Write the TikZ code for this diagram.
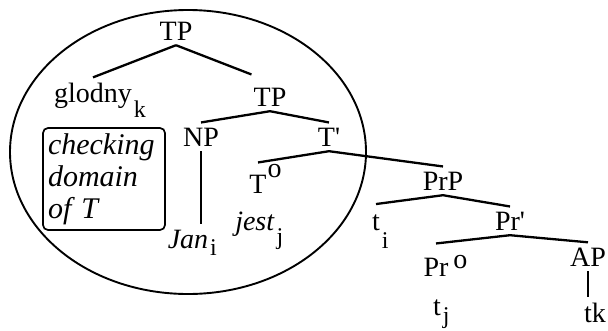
\documentclass[tikz,border=0pt]{standalone}
\usepackage{fontspec}
\setmainfont{Liberation Serif}
% lowered index and raised bar-level mark, kept out of the node width
\newcommand{\lo}[2][8pt]{\rlap{\kern2pt\raisebox{-#1}{\fontsize{24}{24}\selectfont #2}}}
\newcommand{\hi}[2][16pt]{\rlap{\smash{\kern1pt\raisebox{#1}{#2}}}}

\begin{document}
\begin{tikzpicture}[x=1pt,y=-1pt,
    lbl/.style={anchor=base, inner xsep=2pt, inner ysep=5pt, font=\fontsize{28}{30}\selectfont},
    branch/.style={line width=2.3pt}]
\useasboundingbox (0,0) rectangle (608,330);

% checking domain
\draw[line width=1.9pt] (188,152) ellipse [x radius=178, y radius=142];
\node[draw, line width=1.7pt, rounded corners=5pt, align=left, text width=112pt,
      inner xsep=5pt, minimum height=102pt,
      font=\fontsize{30}{32}\selectfont\itshape] (chk) at (104,179) {checking\\domain\\of T};

% labels
\node[lbl] (TPa) at (176,40) {TP};
\node[lbl] (glodny) at (93,102) {glodny\lo[15pt]{k}};
\node[lbl] (TPb) at (270,106) {TP};
\node[lbl] (NP) at (201,146) {NP};
\node[lbl] (Tbar) at (329,146) {T\textquotesingle};
\node[lbl] (To) at (258,193) {T\hi{o}};
\node[lbl] (Jan) at (188,248) {\textit{Jan}\lo[7pt]{i}};
\node[lbl] (jest) at (255,230) {\textit{jest}\lo[14pt]{j}};
\node[lbl] (PrP) at (443,190) {PrP};
\node[lbl] (ti) at (376,230) {t\lo[18pt]{i}};
\node[lbl] (Prbar) at (510,230) {Pr\textquotesingle};
\node[lbl] (Pro) at (436,276) {Pr\hi[8pt]{\kern4pt o}};
\node[lbl] (AP) at (588,266) {AP};
\node[lbl] (tj) at (437,315) {t\lo[8pt]{j}};
\node[lbl] (tk) at (595,322) {tk};

% branches
\draw[branch] (TPa.south) -- (glodny.north);
\draw[branch] (TPa.south) -- ([yshift=8pt]TPb.north west);
\draw[branch] (TPb.south) -- (NP.north);
\draw[branch] (TPb.south) -- (Tbar.north);
\draw[branch] (NP.south) -- (NP.south |- Jan.north);
\draw[branch] (Tbar.south) -- ([yshift=7pt]To.north);
\draw[branch] (Tbar.south) -- (PrP.north);
\draw[branch] (PrP.south) -- ([yshift=5pt]ti.north);
\draw[branch] (PrP.south) -- (Prbar.north);
\draw[branch] (Prbar.south) -- ([yshift=9pt]Pro.north);
\draw[branch] (Prbar.south) -- (AP.north);
\draw[branch] (AP.south) -- (AP.south |- tk.north);
\end{tikzpicture}
\end{document}
